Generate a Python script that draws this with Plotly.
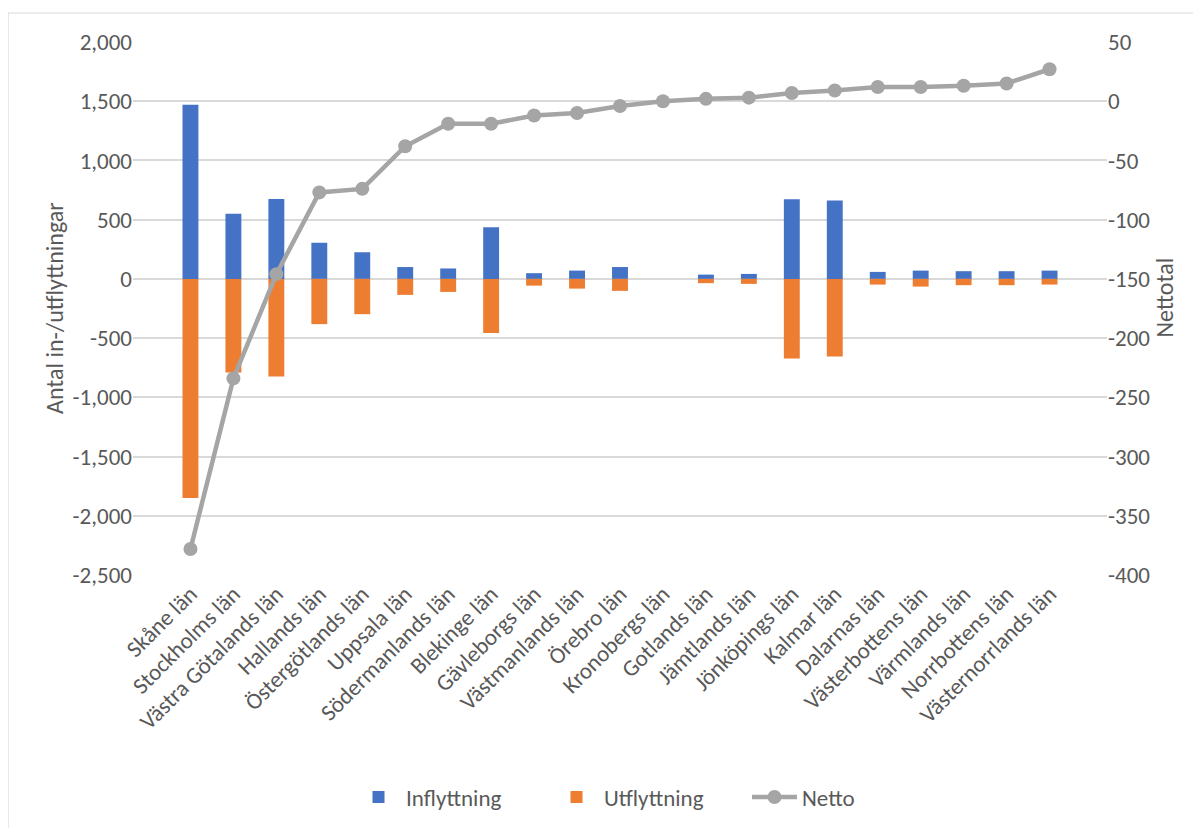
import plotly.graph_objects as go

lan = ["Skåne län", "Stockholms län", "Västra Götalands län", "Hallands län",
       "Östergötlands län", "Uppsala län", "Södermanlands län", "Blekinge län",
       "Gävleborgs län", "Västmanlands län", "Örebro län", "Kronobergs län",
       "Gotlands län", "Jämtlands län", "Jönköpings län", "Kalmar län",
       "Dalarnas län", "Västerbottens län", "Värmlands län", "Norrbottens län",
       "Västernorrlands län"]
inflyttning = [1470, 550, 675, 305, 225, 100, 88, 436, 48, 70, 100, 0,
               36, 42, 672, 661, 59, 70, 65, 65, 70]
utflyttning = [-1850, -790, -825, -382, -298, -135, -110, -456, -57, -82, -101, 0,
               -36, -42, -672, -656, -48, -65, -53, -53, -48]
netto = [-378, -234, -146, -77, -74, -38, -19, -19, -12, -10, -4, 0,
         2, 3, 7, 9, 12, 12, 13, 15, 27]

left_ticks = list(range(-2500, 2001, 500))
right_ticks = list(range(-400, 51, 50))

FONT = "Calibri, Carlito, Lato, sans-serif"
GREY_TXT = "#595959"

# plot area in pixels
L, R, T, B = 125, 102, 34, 261
PW, PH = 1201 - L - R, 828 - T - B


def fmt(v):
    s = "{:,}".format(abs(v))
    return ("-" + s) if v < 0 else s


fig = go.Figure()
fig.add_trace(go.Bar(x=lan, y=inflyttning, name="Inflyttning",
                     marker=dict(color="#4472C4", line=dict(width=0))))
fig.add_trace(go.Bar(x=lan, y=utflyttning, name="Utflyttning",
                     marker=dict(color="#ED7D31", line=dict(width=0))))
fig.add_trace(go.Scatter(x=lan, y=netto, name="Netto", yaxis="y2",
                         mode="lines+markers",
                         line=dict(color="#A5A5A5", width=4.5),
                         marker=dict(color="#A5A5A5", size=14)))

fig.update_layout(
    width=1201, height=828,
    margin=dict(l=L, r=R, t=T, b=B, autoexpand=False),
    paper_bgcolor="white", plot_bgcolor="white",
    barmode="relative", bargap=0.63,
    font=dict(family=FONT, size=23, color=GREY_TXT),
    showlegend=True,
    legend=dict(orientation="h", x=0.5 + 28 / PW, xanchor="center", y=-(789 - T - PH) / PH,
                yanchor="middle", entrywidth=138,
                font=dict(size=23, color=GREY_TXT), traceorder="normal",
                itemwidth=45),
    xaxis=dict(tickangle=-45, showgrid=False, showline=False, ticks="",
               automargin=False, tickfont=dict(size=23, color=GREY_TXT)),
    yaxis=dict(range=[-2500, 2000], tickvals=left_ticks,
               ticktext=[fmt(v) for v in left_ticks],
               showgrid=True, gridcolor="#D9D9D9", gridwidth=1.5,
               zeroline=False, showline=False, ticks="", automargin=False,
               tickfont=dict(size=23, color=GREY_TXT)),
    yaxis2=dict(range=[-400, 50], tickvals=right_ticks,
                ticktext=[fmt(v) for v in right_ticks],
                overlaying="y", side="right", showgrid=False,
                zeroline=False, showline=False, ticks="", automargin=False,
                tickfont=dict(size=23, color=GREY_TXT)),
)

# axis titles placed by hand
fig.add_annotation(text="Antal in-/utflyttningar", textangle=-90, showarrow=False,
                   xref="paper", yref="paper", x=-(L - 30) / PW, y=0.5,
                   font=dict(size=24, color=GREY_TXT))
fig.add_annotation(text="Nettotal", textangle=-90, showarrow=False,
                   xref="paper", yref="paper", x=1 + (1172 - L - PW) / PW,
                   y=(T + PH - 290) / PH,
                   font=dict(size=24, color=GREY_TXT))

# chart area border, as in the spreadsheet export
fig.add_shape(type="rect", xref="paper", yref="paper",
              x0=-L / PW, x1=1 + (R + 20) / PW, y0=-(B + 20) / PH, y1=1 + (T - 5) / PH,
              line=dict(color="#D9D9D9", width=1.2), layer="below")

fig.write_html("out.html")
